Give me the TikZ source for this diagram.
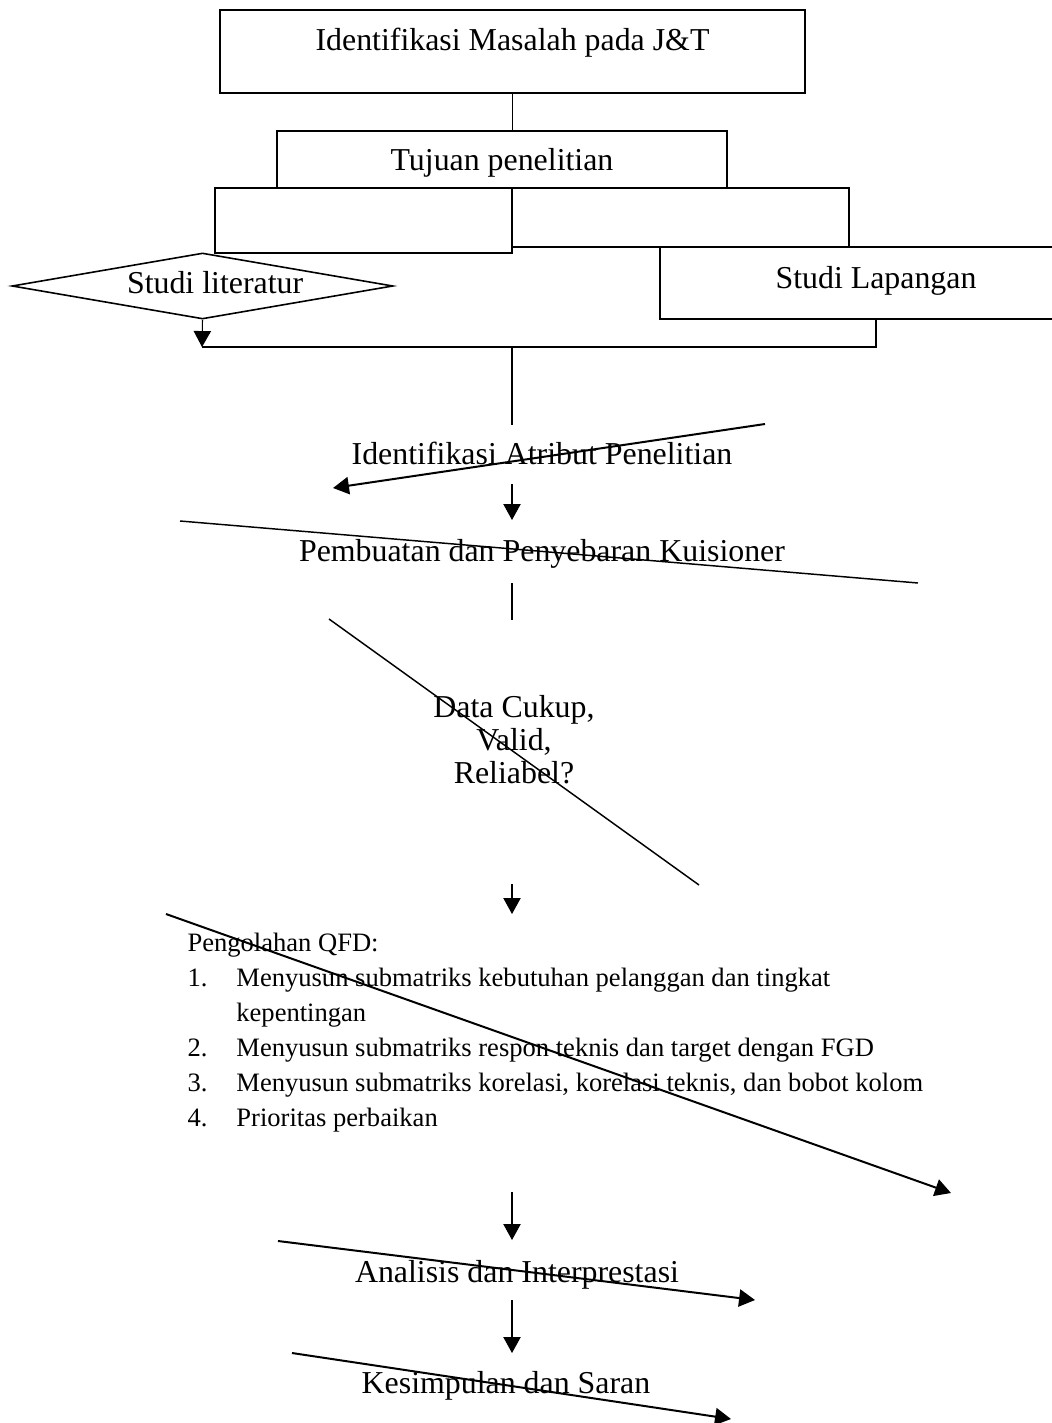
\documentclass[tikz,border=0pt]{standalone}
\usepackage{fontspec}
\setmainfont{Liberation Serif}
\usepackage{tikz}
\usetikzlibrary{shapes.geometric, positioning, arrows.meta}
\newcommand{\satuan}{0.3765pt}
\tikzset{
    kotak/.style = {draw=black, line width=0.6pt, inner sep=0pt, font=\fontsize{12}{12.4}\selectfont},
    ketupat/.style = {diamond, draw=black, line width=0.6pt, inner sep=0pt, aspect=5.77, font=\fontsize{12}{12.4}\selectfont},
    teks/.style = {inner sep=0pt, align=center, font=\fontsize{12}{12.4}\selectfont},
    panah/.style = {arrows = {-Triangle[length=6pt, width=6.5pt]}}
}

\begin{document}
\begin{tikzpicture}[
        x=\satuan, y=-\satuan,
        garis/.style = {line width=0.4pt},
        coretan/.style = {line width=0.75pt},
        coretan tipis/.style = {line width=0.55pt}
    ]
    \useasboundingbox (0,0) rectangle (1052,1423);
    \clip (0,0) rectangle (1052,1423);

    % kotak bagian atas
    \node (masalah) at (512.5,51.5) [kotak, minimum width={585*\satuan}, minimum height={83*\satuan}, text height=8pt, text depth=9.1pt] {Identifikasi Masalah pada J\&T};
    \node (kiri) at (363.5,220.5) [kotak, minimum width={297*\satuan}, minimum height={65*\satuan}] {};
    \node (kanan) at (680.5,217.5) [kotak, minimum width={337*\satuan}, minimum height={59*\satuan}] {};
    \node (tujuan) at (502,159.5) [kotak, minimum width={450*\satuan}, minimum height={57*\satuan}, text height=8pt, text depth=0pt] {Tujuan penelitian};
    \node (lapangan) at (876,283) [kotak, minimum width={432*\satuan}, minimum height={72*\satuan}, text height=8pt, text depth=4.2pt] {Studi Lapangan};
    \node (literatur) at (202.5,286) [ketupat, minimum width={381*\satuan}, minimum height={66*\satuan}, text height=8pt, text depth=2.7pt] {\hspace{9.5pt}Studi literatur};

    \coordinate (gabung kiri) at (202,347);
    \coordinate (gabung tengah) at (512,347);
    \coordinate (atribut atas) at (512,425);

    \draw[garis] (masalah.south) -- (masalah.south |- tujuan.north);
    \draw[garis, panah] (literatur.south) -- (gabung kiri);
    \draw[garis] (lapangan.south) |- (gabung kiri);
    \draw[garis] (gabung tengah) -- (atribut atas);

    % teks tanpa kotak
    \node (atribut) at (542,464) [teks, anchor=base] {Identifikasi Atribut Penelitian};
    \node (kuisioner) at (542,561) [teks, anchor=base] {Pembuatan dan Penyebaran Kuisioner};
    \node (keputusan) at (514,740) [teks] {Data Cukup,\\ Valid,\\ Reliabel?};
    \node (qfd) at (187,951) [anchor=base west, inner sep=0pt, font=\fontsize{10}{13.2}\selectfont] {%
        \begin{tabular}[t]{@{}p{18.4pt}@{}l@{}}
            \multicolumn{2}{@{}l@{}}{Pengolahan QFD:}\\
            1. & Menyusun submatriks kebutuhan pelanggan dan tingkat\\
               & kepentingan\\
            2. & Menyusun submatriks respon teknis dan target dengan FGD\\
            3. & Menyusun submatriks korelasi, korelasi teknis, dan bobot kolom\\
            4. & Prioritas perbaikan
        \end{tabular}};
    \node (analisis) at (517,1282) [teks, anchor=base] {Analisis dan Interprestasi};
    \node (kesimpulan) at (506,1393) [teks, anchor=base] {Kesimpulan dan Saran};

    \coordinate (atribut bawah) at (512,484);
    \coordinate (kuisioner atas) at (512,520);
    \coordinate (kuisioner bawah) at (512,583);
    \coordinate (keputusan atas) at (512,620);
    \coordinate (keputusan bawah) at (512,884);
    \coordinate (qfd atas) at (512,914);
    \coordinate (qfd bawah) at (512,1192);
    \coordinate (analisis atas) at (512,1240);
    \coordinate (analisis bawah) at (512,1300);
    \coordinate (kesimpulan atas) at (512,1353);

    \draw[garis, panah] (atribut bawah) -- (kuisioner atas);
    \draw[garis] (kuisioner bawah) -- (keputusan atas);
    \draw[garis, panah] (keputusan bawah) -- (qfd atas);
    \draw[garis, panah] (qfd bawah) -- (analisis atas);
    \draw[garis, panah] (analisis bawah) -- (kesimpulan atas);

    % garis-garis miring yang lepas
    \coordinate (m1a) at (765,424);
    \coordinate (m1b) at (333,488);
    \coordinate (m2a) at (180,521);
    \coordinate (m2b) at (918,583);
    \coordinate (m3a) at (329,619);
    \coordinate (m3b) at (699,885);
    \coordinate (m4a) at (166,914);
    \coordinate (m4b) at (951,1193);
    \coordinate (m5a) at (278,1241);
    \coordinate (m5b) at (755,1300);
    \coordinate (m6a) at (292,1353);
    \coordinate (m6b) at (731,1419);

    \draw[coretan, panah] (m1a) -- (m1b);
    \draw[coretan tipis] (m2a) -- (m2b);
    \draw[coretan tipis] (m3a) -- (m3b);
    \draw[coretan, panah] (m4a) -- (m4b);
    \draw[coretan, panah] (m5a) -- (m5b);
    \draw[coretan, panah] (m6a) -- (m6b);

\end{tikzpicture}
\end{document}
